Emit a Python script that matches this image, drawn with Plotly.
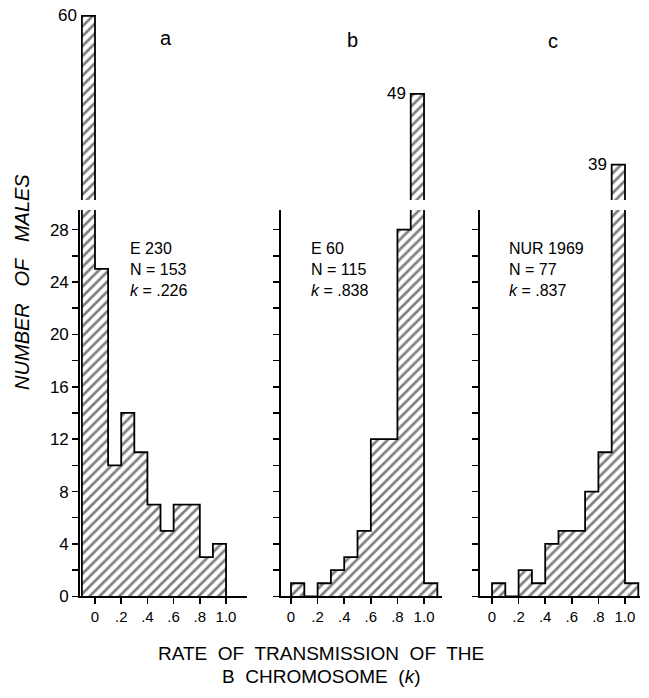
import plotly.graph_objects as go

# ---- data ----
panel_names = ["a", "b", "c"]
a_bin_left = [-0.1, 0.0, 0.1, 0.2, 0.3, 0.4, 0.5, 0.6, 0.7, 0.8, 0.9]
a_counts = [60, 25, 10, 14, 11, 7, 5, 7, 7, 3, 4]
b_bin_left = [0.0, 0.1, 0.2, 0.3, 0.4, 0.5, 0.6, 0.7, 0.8, 0.9, 1.0]
b_counts = [1, 0, 1, 2, 3, 5, 12, 12, 28, 49, 1]
c_bin_left = [0.0, 0.1, 0.2, 0.3, 0.4, 0.5, 0.6, 0.7, 0.8, 0.9, 1.0]
c_counts = [1, 0, 2, 1, 4, 5, 5, 8, 11, 39, 1]
bin_width = 0.1
stock_text = ["E 230<br>N = 153<br><i>k</i> = .226",
              "E 60<br>N = 115<br><i>k</i> = .838",
              "NUR 1969<br>N = 77<br><i>k</i> = .837"]
x_tickvals = [0, 0.2, 0.4, 0.6, 0.8, 1.0]
x_ticktext = ["0", ".2", ".4", ".6", ".8", "1.0"]
y_tickvals = list(range(0, 29, 2))
y_ticktext_a = [str(v) if v % 4 == 0 else "" for v in y_tickvals]

W, H = 649, 698
FONT = "Liberation Sans, Arial, Helvetica, sans-serif"

panels = [
    dict(left=a_bin_left, counts=a_counts, px=(80, 247), xr=(-0.1145, 1.16), ticks=y_ticktext_a),
    dict(left=b_bin_left, counts=b_counts, px=(281, 442), xr=(-0.0752, 1.135), ticks=[""] * len(y_tickvals)),
    dict(left=c_bin_left, counts=c_counts, px=(480, 640), xr=(-0.0902, 1.1128), ticks=[""] * len(y_tickvals)),
]

low_dom = [1 - 605 / H, 1 - 213 / H]
up_dom = [1 - 203 / H, 1 - 9 / H]
low_range = [0, 29.5]
up_range = [34, 61]

fig = go.Figure()
layout = {}

for i, p in enumerate(panels):
    lo = 2 * i + 1
    up = 2 * i + 2
    centers = [l + bin_width / 2 for l in p["left"]]
    edges_x = [p["left"][0]] + p["left"] + [p["left"][-1] + bin_width]
    edges_y = [0] + p["counts"] + [0]
    for ax in (lo, up):
        xa = "x" if ax == 1 else f"x{ax}"
        ya = "y" if ax == 1 else f"y{ax}"
        fig.add_trace(go.Bar(
            x=centers, y=p["counts"], width=bin_width,
            marker=dict(color="white", line=dict(width=0),
                        pattern=dict(shape="/", fgcolor="black", bgcolor="white",
                                     size=7, solidity=0.38)),
            xaxis=xa, yaxis=ya, showlegend=False, hoverinfo="skip"))
        fig.add_trace(go.Scatter(
            x=edges_x, y=edges_y, mode="lines", line=dict(color="black", width=1.8, shape="hv"),
            xaxis=xa, yaxis=ya, showlegend=False, hoverinfo="skip"))

    xdom = [p["px"][0] / W, p["px"][1] / W]
    xname_lo = "xaxis" if lo == 1 else f"xaxis{lo}"
    yname_lo = "yaxis" if lo == 1 else f"yaxis{lo}"
    layout[xname_lo] = dict(domain=xdom, range=list(p["xr"]), anchor="y" if lo == 1 else f"y{lo}",
                            showline=True, linecolor="black", linewidth=1.8,
                            ticks="outside", ticklen=6, tickwidth=1.5, tickcolor="black",
                            tickvals=x_tickvals, ticktext=x_ticktext,
                            tickfont=dict(family=FONT, size=15, color="black"),
                            showgrid=False, zeroline=False, fixedrange=True)
    layout[yname_lo] = dict(domain=low_dom, range=low_range, anchor="x" if lo == 1 else f"x{lo}",
                            showline=True, linecolor="black", linewidth=1.8,
                            ticks="outside", ticklen=6, tickwidth=1.5, tickcolor="black",
                            tickvals=y_tickvals, ticktext=p["ticks"],
                            tickfont=dict(family=FONT, size=17, color="black"),
                            showgrid=False, zeroline=False, fixedrange=True)
    layout[f"xaxis{up}"] = dict(domain=xdom, range=list(p["xr"]), anchor=f"y{up}",
                                visible=False, fixedrange=True)
    layout[f"yaxis{up}"] = dict(domain=up_dom, range=up_range, anchor=f"x{up}",
                                visible=False, fixedrange=True)

annotations = []
# peak value labels on the broken bars
for i, p in enumerate(panels):
    up = 2 * i + 2
    k = p["counts"].index(max(p["counts"]))
    annotations.append(dict(x=p["left"][k], y=p["counts"][k], xref=f"x{up}", yref=f"y{up}",
                            text=str(p["counts"][k]), showarrow=False, xanchor="right",
                            yanchor="middle", xshift=-3,
                            font=dict(family=FONT, size=17, color="black")))

panel_label_pos = [(166, 39), (352, 41), (553, 42)]
for name, (px, py) in zip(panel_names, panel_label_pos):
    annotations.append(dict(x=px / W, y=1 - py / H, xref="paper", yref="paper", text=name,
                            showarrow=False, xanchor="center", yanchor="middle",
                            font=dict(family=FONT, size=20, color="black")))

stock_pos = [(128, 241), (309, 241), (507, 241)]
for txt, (px, py) in zip(stock_text, stock_pos):
    annotations.append(dict(x=px / W, y=1 - py / H, xref="paper", yref="paper", text=txt,
                            showarrow=False, xanchor="left", yanchor="top", align="left",
                            font=dict(family=FONT, size=16, color="black")))

annotations.append(dict(x=22 / W, y=1 - 286 / H, xref="paper", yref="paper",
                        text="<i>NUMBER\u00a0\u00a0 OF\u00a0\u00a0 MALES</i>", textangle=-90,
                        showarrow=False, xanchor="center", yanchor="middle",
                        font=dict(family=FONT, size=20, color="black")))
annotations.append(dict(x=321 / W, y=1 - 663 / H, xref="paper", yref="paper",
                        text="RATE\u00a0 OF\u00a0 TRANSMISSION\u00a0 OF\u00a0 THE",
                        showarrow=False, xanchor="center", yanchor="middle",
                        font=dict(family=FONT, size=19, color="black")))
annotations.append(dict(x=321 / W, y=1 - 686 / H, xref="paper", yref="paper",
                        text="B\u00a0 CHROMOSOME\u00a0 (<i>k</i>)",
                        showarrow=False, xanchor="center", yanchor="middle",
                        font=dict(family=FONT, size=19, color="black")))

fig.update_layout(width=W, height=H, margin=dict(l=0, r=0, t=0, b=0),
                  paper_bgcolor="white", plot_bgcolor="rgba(0,0,0,0)",
                  barmode="overlay", bargap=0, annotations=annotations,
                  font=dict(family=FONT, color="black"), **layout)

fig.write_html("out.html", config={"displayModeBar": False, "staticPlot": True},
               post_script="document.body.style.margin='0';document.body.style.padding='0';")
